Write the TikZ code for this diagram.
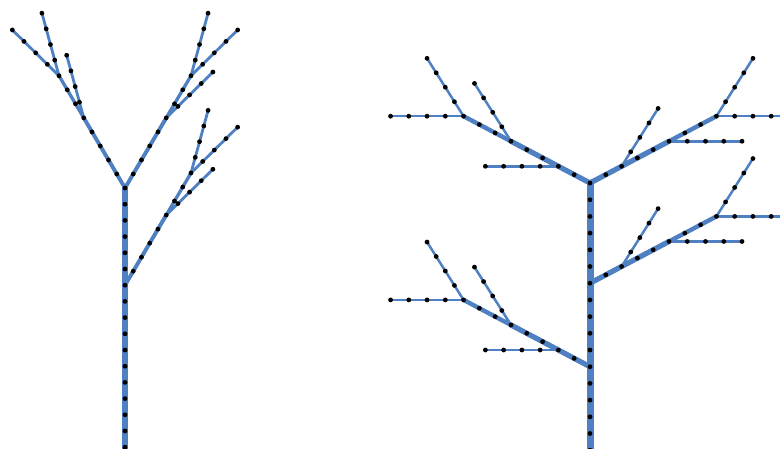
\documentclass[tikz,border=0pt]{standalone}
\usetikzlibrary{calc}
\pgfdeclarelayer{bg}
\pgfsetlayers{bg,main}
\definecolor{edgeblue}{RGB}{78,128,194}
\tikzset{
  dot/.style={circle,fill=black,draw=none,inner sep=0pt,minimum size=4.8pt},
  edge/.style={draw=edgeblue,line cap=round,line join=round}
}
% #1 name prefix, #2 start node, #3 angle, #4 number of segments, #5 line width
\newcommand\twig[5]{%
  \foreach \k in {1,...,#4}{%
    \node[dot] (#1\k) at ($(#2)+({\k*cos(#3)},{\k*sin(#3)})$) {};
  }%
  \begin{pgfonlayer}{bg}
    \draw[edge,line width=#5] (#2.center) -- (#1#4.center);
  \end{pgfonlayer}%
}
\begin{document}
\begin{tikzpicture}[x=1pt,y=-1pt]
\useasboundingbox (0,0) rectangle (780,448);
\clip (0,0) rectangle (780,448);

% ---------------- left tree ----------------
\begin{scope}[shift={(125,188)},x={(16.5pt,0pt)},y={(0pt,16.2pt)}]
  \foreach \k in {0,...,16} \node[dot] (a\k) at (0,-\k) {};
  \coordinate (abot) at (0,-17);
  \begin{pgfonlayer}{bg}
    \draw[edge,line width=5.3] (abot) -- (a0.center);
  \end{pgfonlayer}
  % upper left branch
  \twig{lb}{a0}{120}{8}{3.3}
  \twig{lbs}{lb5}{105}{4}{2.8}
  \twig{lbe}{lb8}{105}{4}{2.8}
  \twig{lbf}{lb8}{135}{4}{2.8}
  % upper right branch
  \twig{rb}{a0}{60}{8}{3.3}
  \twig{rbs}{rb5}{45}{4}{2.8}
  \twig{rbe}{rb8}{75}{4}{2.8}
  \twig{rbf}{rb8}{45}{4}{2.8}
  % lower right branch
  \twig{qb}{a6}{60}{8}{3.3}
  \twig{qbs}{qb5}{45}{4}{2.8}
  \twig{qbe}{qb8}{75}{4}{2.8}
  \twig{qbf}{qb8}{45}{4}{2.8}
  \begin{pgfonlayer}{bg}
    \draw[edge,line width=3.8] (a0.center) -- (lb5.center);
    \draw[edge,line width=3.8] (a0.center) -- (rb5.center);
    \draw[edge,line width=3.8] (a6.center) -- (qb5.center);
  \end{pgfonlayer}
\end{scope}

% ---------------- right tree ----------------
\begin{scope}[shift={(590,183)},x={(18.25pt,0pt)},y={(0pt,16.7pt)}]
  \foreach \k in {0,...,16} \node[dot] (b\k) at (0,-\k) {};
  \coordinate (bbot) at (0,-17);
  \begin{pgfonlayer}{bg}
    \draw[edge,line width=7] (bbot) -- (b0.center);
  \end{pgfonlayer}
  % upper left branch
  \twig{ul}{b0}{150}{8}{4.4}
  \twig{ulh}{ul2}{180}{4}{2.5}
  \twig{uls}{ul5}{120}{4}{2.5}
  \twig{ule}{ul8}{180}{4}{2.5}
  \twig{ulf}{ul8}{120}{4}{2.5}
  % upper right branch
  \twig{ur}{b0}{30}{8}{4.4}
  \twig{urs}{ur2}{60}{4}{2.5}
  \twig{urh}{ur5}{0}{4}{2.5}
  \twig{ure}{ur8}{60}{4}{2.5}
  \twig{urf}{ur8}{0}{4}{2.5}
  % middle right branch
  \twig{mr}{b6}{30}{8}{4.4}
  \twig{mrs}{mr2}{60}{4}{2.5}
  \twig{mrh}{mr5}{0}{4}{2.5}
  \twig{mre}{mr8}{60}{4}{2.5}
  \twig{mrf}{mr8}{0}{4}{2.5}
  % lower left branch
  \twig{ll}{b11}{150}{8}{4.4}
  \twig{llh}{ll2}{180}{4}{2.5}
  \twig{lls}{ll5}{120}{4}{2.5}
  \twig{lle}{ll8}{180}{4}{2.5}
  \twig{llf}{ll8}{120}{4}{2.5}
  \begin{pgfonlayer}{bg}
    \draw[edge,line width=5.2] (b0.center) -- (ul5.center);
    \draw[edge,line width=5.2] (b0.center) -- (ur5.center);
    \draw[edge,line width=5.2] (b6.center) -- (mr5.center);
    \draw[edge,line width=5.2] (b11.center) -- (ll5.center);
  \end{pgfonlayer}
\end{scope}
\end{tikzpicture}
\end{document}
